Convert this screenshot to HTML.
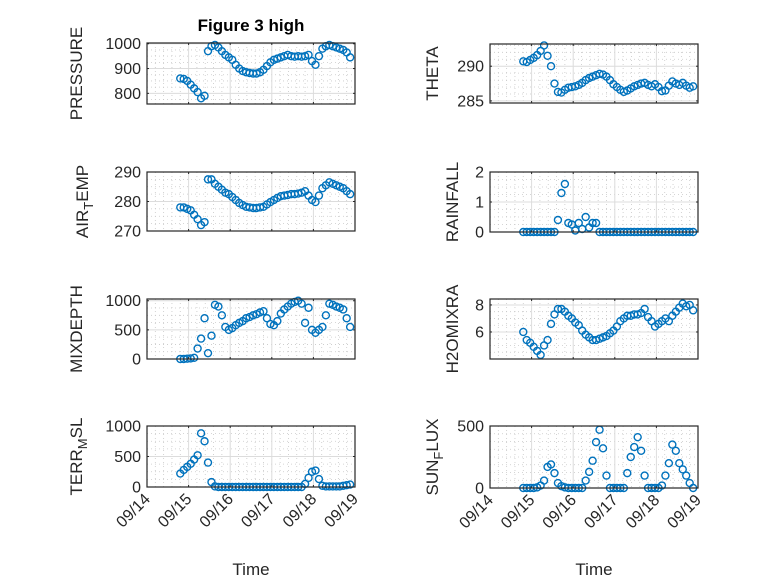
<!DOCTYPE html>
<html><head><meta charset="utf-8"><style>
html,body{margin:0;padding:0;background:#fff;}
svg{display:block;font-family:"Liberation Sans",sans-serif;}
</style></head><body>
<svg id="fig" width="778" height="583" viewBox="0 0 778 583">
<rect width="778" height="583" fill="#fff"/>
<text x="251" y="31" text-anchor="middle" font-size="17" font-weight="bold" fill="#000">Figure 3 high</text>
</svg>
<script>
// time: days since 09/14, 2-hour sampling
const startDay = 0.80;
const stepDay = 1/12;
const nPts = 50;
const xTickLabels = ["09/14","09/15","09/16","09/17","09/18","09/19"];

const pressure = [860,858,850,835,820,805,780,790,970,990,995,985,970,955,945,935,915,900,890,885,882,880,880,885,895,910,925,935,940,945,950,955,950,948,950,948,950,955,930,915,950,980,990,995,990,985,980,975,965,945];
const theta = [290.7,290.6,290.9,291.2,291.6,292.2,293.0,291.5,290.0,287.5,286.3,286.2,286.6,286.9,287.0,287.1,287.3,287.6,288.0,288.3,288.5,288.7,288.9,288.8,288.5,288.0,287.4,287.0,286.6,286.3,286.5,286.8,287.1,287.3,287.5,287.6,287.3,287.1,287.4,287.0,286.4,286.5,287.2,287.8,287.5,287.3,287.6,287.2,286.9,287.1];
const airTemp = [278,278,277.5,277,275.5,274,272,273,287.5,287.5,286,285,284,283,282.5,281.5,280.5,279.5,278.8,278.2,278,277.8,277.8,278,278.2,279,279.8,280.5,281.2,281.8,282,282.2,282.5,282.5,282.7,283,283.5,282,280.5,279.8,282,284.5,285.5,286.5,286,285.5,285,284.5,283.5,282.5];
const rainfall = [0,0,0,0,0,0,0,0,0,0,0.4,1.3,1.6,0.3,0.25,0.05,0.3,0.1,0.5,0.15,0.3,0.3,0,0,0,0,0,0,0,0,0,0,0,0,0,0,0,0,0,0,0,0,0,0,0,0,0,0,0,0];
const mixDepth = [0,0,5,10,20,180,350,700,100,400,930,900,750,550,500,530,580,620,650,700,720,750,770,800,820,700,600,580,650,780,850,900,950,980,1000,950,620,880,500,450,500,550,750,950,930,900,880,850,700,550];
const h2oMix = [6.0,5.4,5.2,4.9,4.6,4.3,5.0,5.4,6.6,7.3,7.7,7.7,7.5,7.2,7.0,6.7,6.5,6.1,5.8,5.6,5.4,5.4,5.5,5.6,5.7,5.9,6.1,6.4,6.8,7.0,7.2,7.2,7.3,7.3,7.4,7.7,7.1,6.8,6.4,6.6,6.8,7.0,6.8,7.2,7.5,7.8,8.1,7.9,8.0,7.6];
const terrMsl = [220,280,330,380,450,520,880,750,400,80,10,0,0,0,0,0,0,0,0,0,0,0,0,0,0,0,0,0,0,0,0,0,0,0,0,0,50,150,250,270,130,20,10,10,10,10,10,20,30,40];
const sunFlux = [0,0,0,0,5,20,60,170,190,120,40,15,5,0,0,0,0,0,60,130,220,370,470,320,100,0,0,0,0,0,120,250,330,410,300,100,0,0,0,0,20,100,200,350,300,200,150,100,40,0];

const pressureTicks=[800,900,1000], thetaTicks=[285,290], airTicks=[270,280,290], rainTicks=[0,1,2],
      mixTicks=[0,500,1000], h2oTicks=[6,8], terrTicks=[0,500,1000], sunTicks=[0,500];

const times=[]; for(let i=0;i<nPts;i++) times.push(startDay+i*stepDay);

const NS="http://www.w3.org/2000/svg";
const svg=document.getElementById('fig');
function mk(tag,attrs,parent){const e=document.createElementNS(NS,tag);for(const k in attrs)e.setAttribute(k,attrs[k]);(parent||svg).appendChild(e);return e;}

const panels=[
 {name:'pressure',x:147,y:43,w:208,h:61,ymin:757,ymax:1003,ticks:pressureTicks,minor:25,data:pressure,label:['PRESSURE'],lx:82},
 {name:'theta',x:490,y:44,w:208,h:59,ymin:284.7,ymax:293.2,ticks:thetaTicks,minor:1,data:theta,label:['THETA'],lx:438},
 {name:'air-temp',x:147,y:172,w:208,h:59,ymin:270,ymax:290,ticks:airTicks,minor:2.5,data:airTemp,label:['AIR','T','EMP'],lx:88},
 {name:'rainfall',x:490,y:172,w:208,h:60,ymin:0,ymax:2,ticks:rainTicks,minor:0.25,data:rainfall,label:['RAINFALL'],lx:458},
 {name:'mixdepth',x:147,y:299,w:208,h:60,ymin:0,ymax:1030,ticks:mixTicks,minor:125,data:mixDepth,label:['MIXDEPTH'],lx:82},
 {name:'h2omixra',x:490,y:299,w:208,h:60,ymin:4.0,ymax:8.44,ticks:h2oTicks,minor:0.5,data:h2oMix,label:['H2OMIXRA'],lx:458},
 {name:'terr-msl',x:147,y:426,w:208,h:61,ymin:0,ymax:1000,ticks:terrTicks,minor:125,data:terrMsl,label:['TERR','M','SL'],lx:82,xt:true},
 {name:'sun-flux',x:490,y:426,w:208,h:62,ymin:0,ymax:500,ticks:sunTicks,minor:62.5,data:sunFlux,label:['SUN','F','LUX'],lx:438,xt:true}
];

panels.forEach(p=>{
  const g=mk('g',{});
  
  
  const xs=d=>p.x+(d/5)*p.w;
  const ys=v=>p.y+p.h-(v-p.ymin)/(p.ymax-p.ymin)*p.h;
  mk('rect',{x:p.x,y:p.y,width:p.w,height:p.h,fill:'#fff'},g);
  for(let d=0;d<5;d+=0.2){ if(Math.abs(d-Math.round(d))<1e-6)continue;
    mk('line',{x1:xs(d),x2:xs(d),y1:p.y,y2:p.y+p.h,stroke:'#c8c8c8','stroke-width':0.8,'stroke-dasharray':'1,3'},g);}
  for(let v=Math.ceil(p.ymin/p.minor)*p.minor;v<=p.ymax;v+=p.minor){
    if(p.ticks.some(t=>Math.abs(t-v)<1e-6))continue;
    mk('line',{x1:p.x,x2:p.x+p.w,y1:ys(v),y2:ys(v),stroke:'#c8c8c8','stroke-width':0.8,'stroke-dasharray':'1,3'},g);}
  for(let d=1;d<5;d++) mk('line',{x1:xs(d),x2:xs(d),y1:p.y,y2:p.y+p.h,stroke:'#dcdcdc','stroke-width':1},g);
  p.ticks.forEach(t=>{
    mk('line',{x1:p.x,x2:p.x+p.w,y1:ys(t),y2:ys(t),stroke:'#dcdcdc','stroke-width':1},g);
    const tl=mk('text',{x:p.x-6,y:ys(t)+5.5,'text-anchor':'end','font-size':16,fill:'#262626'},g);
    tl.textContent=t;
    
    
    mk('line',{x1:p.x,x2:p.x+2,y1:ys(t),y2:ys(t),stroke:'#262626'},g);
    mk('line',{x1:p.x+p.w,x2:p.x+p.w-2,y1:ys(t),y2:ys(t),stroke:'#262626'},g);
  });
  for(let d=0;d<=5;d++){
    mk('line',{x1:xs(d),x2:xs(d),y1:p.y+p.h,y2:p.y+p.h-2,stroke:'#262626'},g);
    mk('line',{x1:xs(d),x2:xs(d),y1:p.y,y2:p.y+2,stroke:'#262626'},g);
  }
  p.data.forEach((v,i)=>{
    const c=mk('circle',{cx:xs(times[i]),cy:ys(v),r:3.5,fill:'none',stroke:'#0072BD','stroke-width':1.4},g);
    
    
  });
  mk('rect',{x:p.x,y:p.y,width:p.w,height:p.h,fill:'none',stroke:'#262626','stroke-width':1.2},g);
  const cy=p.y+p.h/2;
  const lab=mk('text',{x:0,y:0,'text-anchor':'middle','font-size':17,fill:'#262626',transform:`translate(${p.lx},${cy}) rotate(-90)`},g);
  
  
  if(p.label.length===1){lab.textContent=p.label[0];}
  else{
    const a=mk('tspan',{},lab);a.textContent=p.label[0];
    const b=mk('tspan',{dy:5,'font-size':13},lab);b.textContent=p.label[1];
    const c=mk('tspan',{dy:-5},lab);c.textContent=p.label[2];
  }
  if(p.xt){
    xTickLabels.forEach((s,d)=>{
      const tx=xs(d)+4, ty=p.y+p.h+13;
      const t=mk('text',{x:0,y:0,'text-anchor':'end','font-size':16,fill:'#262626',transform:`translate(${tx},${ty}) rotate(-45)`},g);
      t.textContent=s;
      
      
    });
    const xl=mk('text',{x:p.x+p.w/2,y:575,'text-anchor':'middle','font-size':17,fill:'#262626'},g);
    xl.textContent='Time';
    
    
  }
});
</script>
</body></html>
